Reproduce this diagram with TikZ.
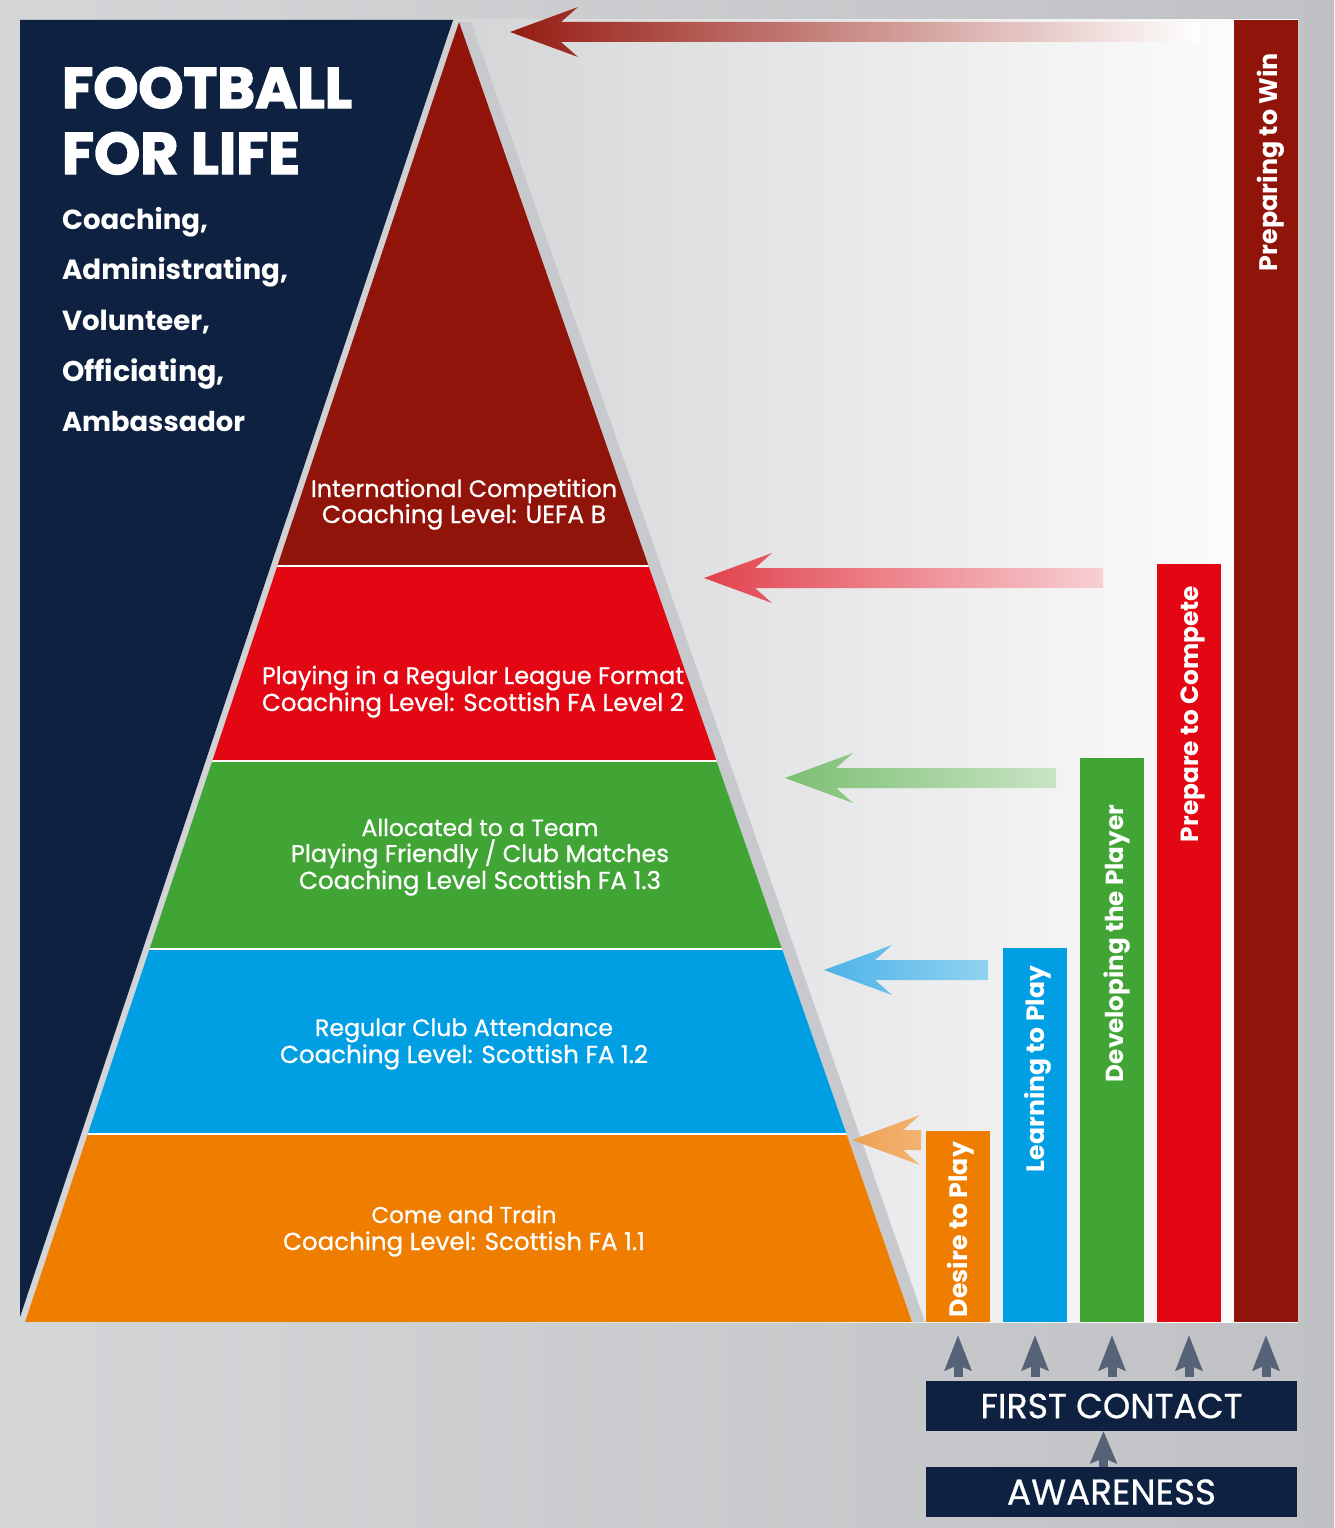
\documentclass[tikz,border=0pt]{standalone}
\usepackage{fontspec}
\setmainfont{Poppins}
\newfontfamily\heavyfont{Poppins}[BoldFeatures={FakeBold=2.5}]
\newfontfamily\medfont{Poppins}[FakeBold=0.7]
\usetikzlibrary{arrows.meta}
\definecolor{navy}{RGB}{14,33,64}
\definecolor{dkred}{RGB}{145,20,10}
\definecolor{pred}{RGB}{227,6,19}
\definecolor{pgreen}{RGB}{64,165,53}
\definecolor{pblue}{RGB}{0,159,227}
\definecolor{porange}{RGB}{239,125,0}
\definecolor{slate}{RGB}{85,98,120}
\definecolor{band}{RGB}{200,201,204}
\definecolor{bgl}{RGB}{213,214,216}
\definecolor{bgr}{RGB}{192,193,196}
\definecolor{panl}{RGB}{212,213,215}
\definecolor{arA}{RGB}{150,28,18}
\definecolor{arB}{RGB}{226,66,77}
\definecolor{arBr}{RGB}{247,208,212}
\definecolor{arC}{RGB}{123,191,113}
\definecolor{arCr}{RGB}{201,228,197}
\definecolor{arD}{RGB}{76,179,232}
\definecolor{arDr}{RGB}{146,210,241}
\definecolor{arE}{RGB}{238,160,85}
\definecolor{arEr}{RGB}{242,180,112}
\newcommand{\fitw}[2]{\resizebox{#1pt}{!}{#2}}
\newcommand{\harrow}[5]{\shade[left color=#4, right color=#5] (#1,#2) -- (#1+68,#2-25) -- (#1+51,#2-10) -- (#3,#2-10) -- (#3,#2+10) -- (#1+51,#2+10) -- (#1+68,#2+25) -- cycle;}
\begin{document}
\begin{tikzpicture}[x=1pt,y=-1pt,
  txt/.style={inner sep=0pt, outer sep=0pt, text=white},
  ptxt/.style={txt, anchor=base, font=\medfont},
  ltxt/.style={txt, anchor=base west, font=\bfseries},
  bartxt/.style={txt, rotate=90, anchor=base east, font=\bfseries},
  bar/.style={inner sep=0pt, outer sep=0pt, minimum width=64pt, anchor=south, draw=none},
  navybox/.style={fill=navy, inner sep=0pt, outer sep=0pt, minimum width=371pt, minimum height=50pt, anchor=north west, text=white, font=\medfont},
  upar/.style={draw=slate, line width=9pt, -{Stealth[length=35pt, width=26pt, inset=5pt]}}]
\useasboundingbox (0,0) rectangle (1334,1528);
% background
\shade[left color=bgl, right color=bgr] (0,0) rectangle (1334,1528);
\shade[left color=panl, right color=white] (455,20) rectangle (1298,1322);
% navy wedge
\fill[navy] (20,20) -- (453,20) -- (20,1317) -- cycle;
% shadow band of pyramid
\fill[band] (459,22) -- (471,22) -- (925,1322) -- (912,1322) -- cycle;
% pyramid layers
\begin{scope}
  \clip (459,22) -- (912,1322) -- (25,1322) -- cycle;
  \fill[dkred] (0,0) rectangle (1000,566);
  \fill[pred] (0,566) rectangle (1000,761);
  \fill[pgreen] (0,761) rectangle (1000,949);
  \fill[pblue] (0,949) rectangle (1000,1134);
  \fill[porange] (0,1134) rectangle (1000,1322);
  \foreach \yy in {566,761,949,1134} \draw[white, line width=2.5pt] (0,\yy) -- (1000,\yy);
\end{scope}
% title
\node[ltxt, font=\heavyfont\bfseries] (tA) at (62,108) {\fitw{290}{FOOTBALL}};
\node[ltxt, font=\heavyfont\bfseries] (tB) at (62,174) {\fitw{238}{FOR LIFE}};
\node[ltxt] (rA) at (62,229) {\fitw{146}{Coaching,}};
\node[ltxt] (rB) at (62,279) {\fitw{226}{Administrating,}};
\node[ltxt] (rC) at (62,330) {\fitw{148}{Volunteer,}};
\node[ltxt] (rD) at (62,381) {\fitw{163}{Officiating,}};
\node[ltxt] (rE) at (62,431) {\fitw{183}{Ambassador}};
% pyramid texts
\node[ptxt] (p1a) at (464,497) {\fitw{306}{International Competition}};
\node[ptxt] (p1b) at (464,523) {\fitw{284}{Coaching Level: UEFA B}};
\node[ptxt] (p2a) at (473,684) {\fitw{422}{Playing in a Regular League Format}};
\node[ptxt] (p2b) at (473,711) {\fitw{422}{Coaching Level: Scottish FA Level 2}};
\node[ptxt] (p3a) at (480,836) {\fitw{237}{Allocated to a Team}};
\node[ptxt] (p3b) at (480,862) {\fitw{378}{Playing Friendly / Club Matches}};
\node[ptxt] (p3c) at (480,889) {\fitw{362}{Coaching Level Scottish FA 1.3}};
\node[ptxt] (p4a) at (464,1036) {\fitw{298}{Regular Club Attendance}};
\node[ptxt] (p4b) at (464,1063) {\fitw{368}{Coaching Level: Scottish FA 1.2}};
\node[ptxt] (p5a) at (464,1223) {\fitw{185}{Come and Train}};
\node[ptxt] (p5b) at (464,1250) {\fitw{362}{Coaching Level: Scottish FA 1.1}};
% bars
\node[bar, fill=porange, minimum height=191pt] (b1) at (958,1322) {};
\node[bar, fill=pblue, minimum height=374pt] (b2) at (1035,1322) {};
\node[bar, fill=pgreen, minimum height=564pt] (b3) at (1112,1322) {};
\node[bar, fill=pred, minimum height=758pt] (b4) at (1189,1322) {};
\node[bar, fill=dkred, minimum height=1302pt] (b5) at (1266,1322) {};
\node[bartxt] (l1) at (967,1142) {\fitw{175}{Desire to Play}};
\node[bartxt] (l2) at (1044,966) {\fitw{206}{Learning to Play}};
\node[bartxt] (l3) at (1123,805) {\fitw{277}{Developing the Player}};
\node[bartxt] (l4) at (1198,586) {\fitw{256}{Prepare to Compete}};
\node[bartxt] (l5) at (1277,53) {\fitw{218}{Preparing to Win}};
% horizontal arrows
\harrow{510}{32}{1200}{arA}{white}
\harrow{704}{578}{1103}{arB}{arBr}
\harrow{785}{778}{1056}{arC}{arCr}
\harrow{824}{970}{988}{arD}{arDr}
\harrow{852}{1140}{921}{arE}{arEr}
% bottom boxes
\node[navybox] (fc) at (926,1381) {\fitw{262}{FIRST CONTACT}};
\node[navybox] (aw) at (926,1467) {\fitw{209}{AWARENESS}};
\foreach \b in {b1,b2,b3,b4,b5}
  \draw[upar, shorten <=4pt, shorten >=13pt] (\b.south |- fc.north) -- (\b.south);
\draw[upar, -{Stealth[length=32pt, width=26pt, inset=5pt]}] ([xshift=-8pt]aw.north) -- ([xshift=-8pt]fc.south);
\end{tikzpicture}
\end{document}
